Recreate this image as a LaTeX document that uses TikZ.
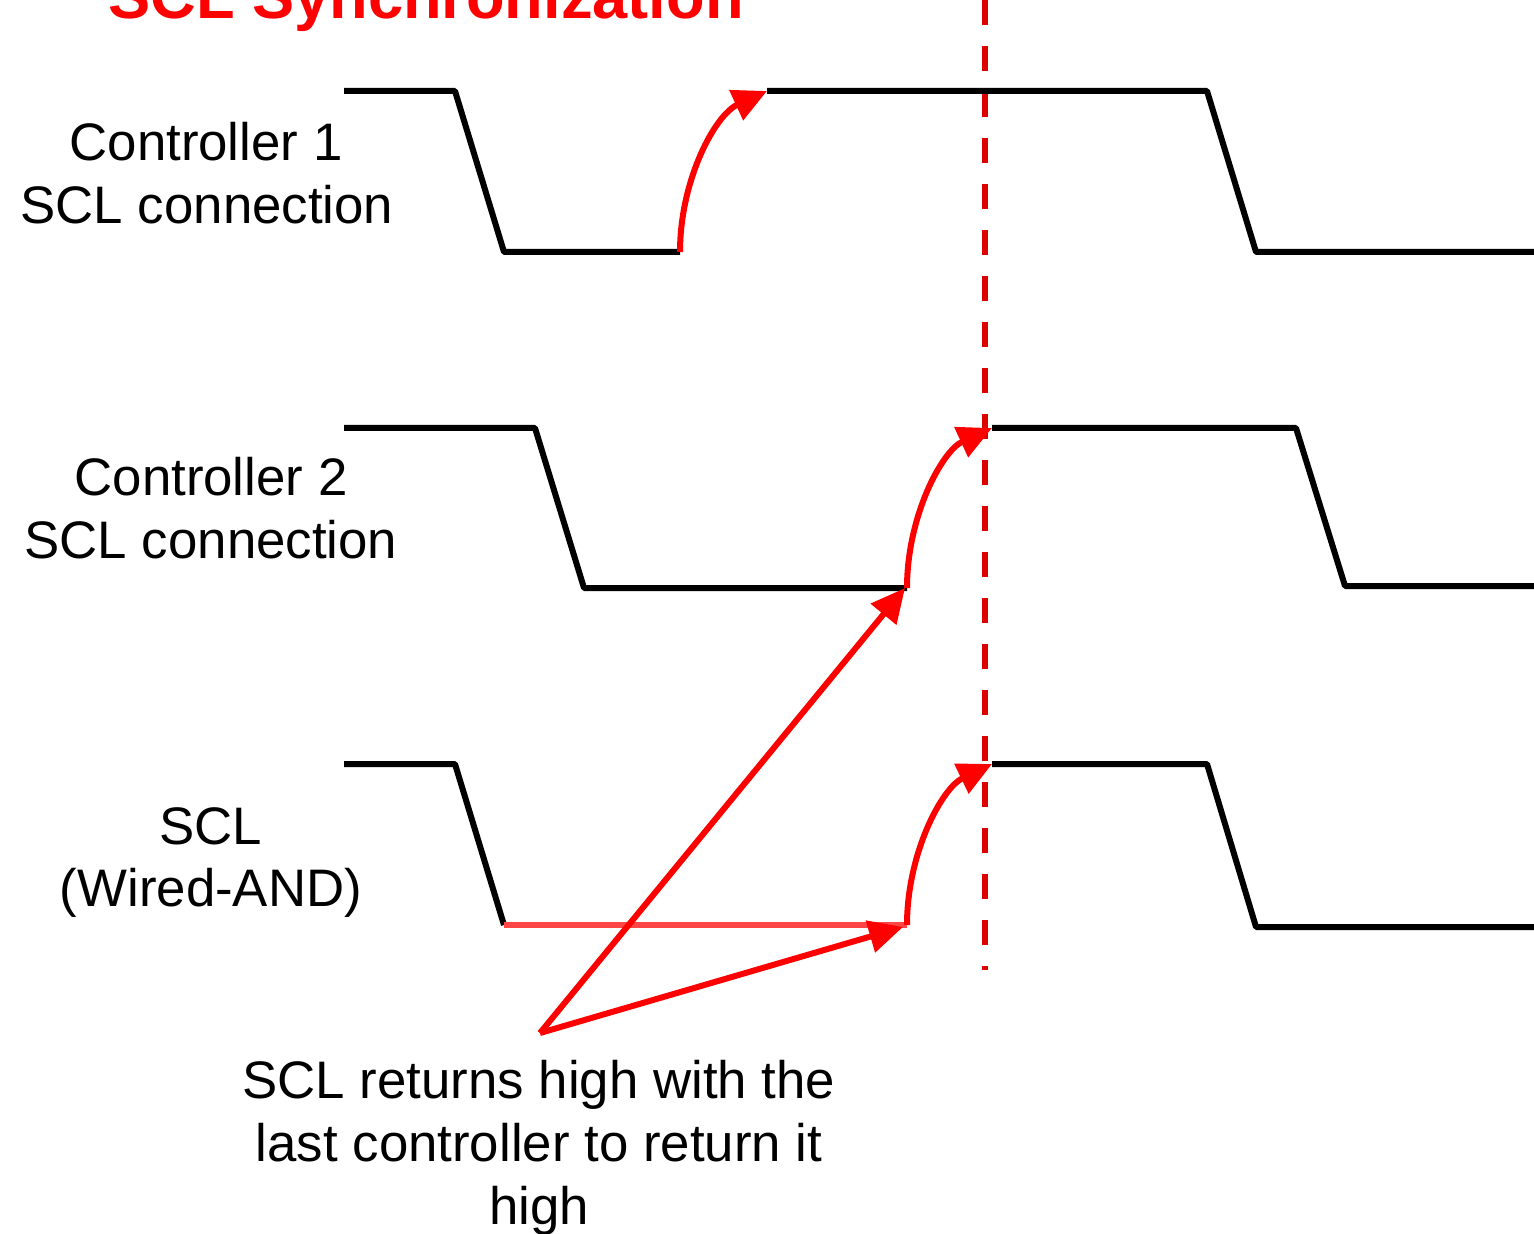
\documentclass[tikz,border=0pt]{standalone}
\usepackage{fontspec}
\setmainfont{Liberation Sans}
\usetikzlibrary{arrows.meta,calc}
\definecolor{sclred}{RGB}{255,0,0}
\definecolor{dashred}{RGB}{221,0,0}
\definecolor{lightred}{RGB}{255,70,70}
\tikzset{
  wave/.style={line width=3pt, black, line join=bevel},
  redarrow/.style={line width=3pt, sclred, -{Triangle[length=17pt,width=16pt]}},
  lowred/.style={line width=3pt, lightred},
  marker/.style={line width=3pt, dashred, dash pattern=on 12.5pt off 10.5pt},
  lbl/.style={font=\fontsize{26.4}{31.6}\selectfont, anchor=base, inner sep=0pt},
  ttl/.style={font=\fontsize{31.6}{38}\selectfont\bfseries, text=sclred, anchor=base, inner sep=0pt}
}
\begin{document}
\begin{tikzpicture}[x=0.5pt,y=-0.5pt]
\useasboundingbox (0,0) rectangle (1534,1234);

% title
\node[ttl] (title) at (426,19) {SCL Synchronization};

% labels
\node[lbl] (l1a) at (206,161) {Controller 1};
\node[lbl] (l1b) at (207,224) {SCL connection};
\node[lbl] (l2a) at (211,495) {Controller 2};
\node[lbl] (l2b) at (211,559) {SCL connection};
\node[lbl] (l3a) at (211,844) {SCL};
\node[lbl] (l3b) at (211,906) {(Wired-AND)};
\node[lbl] (n1) at (539,1098) {SCL returns high with the};
\node[lbl] (n2) at (539,1161) {last controller to return it};
\node[lbl] (n3) at (539,1224) {high};

% dashed marker
\coordinate (dtop) at (985,0);
\coordinate (dbot) at (985,970);
\draw[marker] (dtop) -- (dbot);

% Controller 1 waveform
\coordinate (a0) at (344,91);
\coordinate (a1) at (455,91);
\coordinate (a2) at (504,252);
\coordinate (a3) at (680,252);
\coordinate (a4) at (767,91);
\coordinate (a5) at (1207,91);
\coordinate (a6) at (1256,252);
\coordinate (a7) at (1534,252);
\draw[wave] (a0) -- (a1) -- (a2) -- (a3);
\draw[wave] (a4) -- (a5) -- (a6) -- (a7);
\draw[redarrow] (a3) .. controls ($(a3)+(0,-72)$) and ($(a3)+(35,-137)$) .. (a4);

% Controller 2 waveform
\coordinate (b0) at (344,428);
\coordinate (b1) at (535,428);
\coordinate (b2) at (584,588);
\coordinate (b3) at (907,588);
\coordinate (b4) at (992,428);
\coordinate (b5) at (1296,428);
\coordinate (b6) at (1345,586);
\coordinate (b7) at (1534,586);
\draw[wave] (b0) -- (b1) -- (b2) -- (b3);
\draw[wave] (b4) -- (b5) -- (b6) -- (b7);
\draw[redarrow] (b3) .. controls ($(b3)+(0,-72)$) and ($(b3)+(35,-137)$) .. (b4);

% SCL waveform
\coordinate (s0) at (344,764);
\coordinate (s1) at (455,764);
\coordinate (s2) at (504,925);
\coordinate (s3) at (907,925);
\coordinate (s4) at (992,764);
\coordinate (s5) at (1207,764);
\coordinate (s6) at (1256,927);
\coordinate (s7) at (1534,927);
\draw[wave] (s0) -- (s1) -- (s2);
\draw[lowred] (s2) -- (s3);
\draw[wave] (s4) -- (s5) -- (s6) -- (s7);
\draw[redarrow] (s3) .. controls ($(s3)+(0,-72)$) and ($(s3)+(35,-137)$) .. (s4);

% annotation arrows
\coordinate (src) at (540,1033);
\coordinate (t1) at (905,588);
\coordinate (t2) at (903,927);
\draw[redarrow] (src) -- (t1);
\draw[redarrow] (src) -- (t2);
\end{tikzpicture}
\end{document}
